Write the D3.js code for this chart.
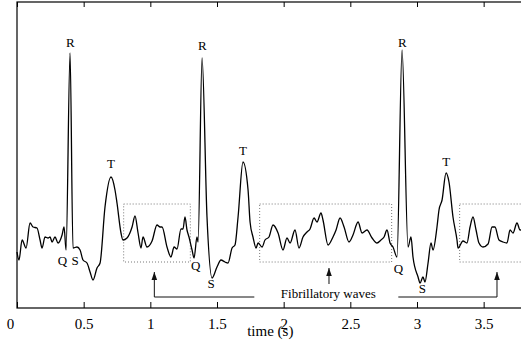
<!DOCTYPE html>
<html>
<head>
<meta charset="utf-8">
<script src="https://cdn.jsdelivr.net/npm/d3@7"></script>
<style>
  body { margin: 0; background: #fff; }
</style>
</head>
<body>
<div id="ecg_plot"></div>
<script>

// ECG trace (time in s, amplitude in mV)
var time_s = [0.000, 0.015, 0.038, 0.068, 0.098, 0.120, 0.150, 0.173, 0.188, 0.210,
  0.233, 0.248, 0.263, 0.285, 0.308, 0.338, 0.353, 0.368, 0.398, 0.420,
  0.450, 0.473, 0.495, 0.525, 0.548, 0.570, 0.600, 0.623, 0.660, 0.705,
  0.735, 0.750, 0.780, 0.795, 0.825, 0.863, 0.885, 0.908, 0.930, 0.945,
  0.975, 1.013, 1.050, 1.073, 1.088, 1.125, 1.155, 1.178, 1.200, 1.230,
  1.245, 1.260, 1.275, 1.290, 1.313, 1.328, 1.350, 1.358, 1.388, 1.425,
  1.463, 1.500, 1.530, 1.560, 1.583, 1.613, 1.635, 1.658, 1.695, 1.733,
  1.748, 1.770, 1.793, 1.808, 1.838, 1.860, 1.890, 1.920, 1.958, 1.995,
  2.025, 2.048, 2.085, 2.115, 2.145, 2.175, 2.198, 2.228, 2.250, 2.280,
  2.295, 2.333, 2.370, 2.393, 2.423, 2.453, 2.490, 2.520, 2.558, 2.588,
  2.625, 2.663, 2.700, 2.730, 2.753, 2.775, 2.798, 2.820, 2.850, 2.888,
  2.933, 2.955, 2.970, 3.008, 3.023, 3.045, 3.060, 3.083, 3.105, 3.120,
  3.150, 3.165, 3.188, 3.218, 3.240, 3.270, 3.300, 3.308, 3.345, 3.375,
  3.398, 3.420, 3.443, 3.465, 3.495, 3.533, 3.563, 3.585, 3.615, 3.645,
  3.675, 3.698, 3.720, 3.750, 3.773, 3.795];

var ecg_mv = [-0.12, -0.20, 0.00, -0.08, 0.17, 0.13, 0.12, 0.00, -0.08, 0.03,
  0.02, 0.03, -0.02, 0.03, -0.03, 0.05, 0.13, -0.10, 1.87, -0.08,
  -0.07, -0.10, -0.20, -0.23, -0.32, -0.40, -0.28, -0.23, 0.33, 0.63,
  0.50, 0.37, 0.07, 0.00, 0.02, 0.13, 0.24, 0.07, -0.08, 0.03,
  -0.07, -0.01, 0.15, 0.13, 0.13, -0.07, -0.17, -0.07, -0.09, 0.11,
  0.11, 0.23, 0.10, 0.03, -0.10, -0.18, 0.03, -0.02, 1.82, 0.23,
  -0.38, -0.27, -0.20, -0.22, -0.23, -0.08, -0.05, 0.23, 0.78, 0.50,
  0.18, 0.03, -0.08, -0.03, -0.07, 0.00, 0.03, 0.15, 0.07, -0.10,
  0.02, -0.03, 0.10, -0.08, 0.03, 0.08, 0.11, 0.22, 0.18, 0.27,
  0.20, -0.05, 0.03, 0.10, 0.22, 0.13, -0.02, 0.05, 0.18, 0.07,
  0.10, 0.02, -0.03, 0.00, 0.03, 0.10, -0.03, -0.07, -0.17, 1.90,
  -0.07, 0.03, -0.17, -0.37, -0.43, -0.37, -0.42, -0.23, -0.03, -0.10,
  0.13, 0.30, 0.40, 0.67, 0.58, 0.23, 0.00, -0.08, -0.01, -0.03,
  0.13, 0.23, 0.10, -0.03, -0.07, -0.04, 0.13, 0.13, 0.00, -0.02,
  -0.03, 0.10, 0.07, 0.17, 0.10, 0.12];

var x_ticks = [0, 0.5, 1, 1.5, 2, 2.5, 3, 3.5];

// wave labels, anchored at (time, amplitude)
var wave_names = ["R", "R", "R", "T", "T", "T", "Q", "S", "Q", "S", "Q", "S"];
var wave_t     = [0.40, 1.39, 2.89, 0.705, 1.695, 3.22, 0.34, 0.435, 1.34, 1.455, 2.86, 3.04];
var wave_v     = [1.93, 1.90, 1.93, 0.72, 0.85, 0.74, -0.25, -0.25, -0.30, -0.48, -0.33, -0.53];

// dotted boxes round the fibrillatory stretches
var box_t0 = [0.80, 1.82, 3.32];
var box_t1 = [1.30, 2.81, 3.95];
var box_vlo = -0.22;
var box_vhi = 0.36;

var note_text = "Fibrillatory waves";
var note_t = 2.335, note_v = -0.58;

// arrows pointing at the boxes (polylines, head at the last point)
var arrows = [
  [[1.78, -0.57], [1.03, -0.57], [1.03, -0.32]],
  [[2.34, -0.44], [2.34, -0.28]],
  [[2.86, -0.57], [3.60, -0.57], [3.60, -0.32]]
];

var serif = "'Liberation Serif', 'Times New Roman', 'DejaVu Serif', serif";

var plot_w = 3.8 * 133.33;
var plot_h = 306;
var margin = {top: 2, left: 17};

var svg = d3.select("#ecg_plot")
  .append("svg")
    .attr("width", 521)
    .attr("height", 353)
    .style("display", "block");

var g = svg.append("g")
  .attr("transform", "translate(" + margin.left + "," + margin.top + ")");

var x = d3.scaleLinear().domain([0, 3.8]).range([0, plot_w]);
var y = d3.scaleLinear().domain([-0.68, 2.38]).range([plot_h, 0]);

// dotted boxes
g.selectAll("rect.fibbox")
  .data(box_t0)
  .enter()
  .append("rect")
    .attr("class", "fibbox")
    .attr("x", d => x(d))
    .attr("y", y(box_vhi))
    .attr("width", (d, i) => x(box_t1[i]) - x(d))
    .attr("height", y(box_vlo) - y(box_vhi))
    .style("fill", "none")
    .style("stroke", "#777")
    .style("stroke-width", 1)
    .style("stroke-dasharray", "1,2");

// arrow head
svg.append("defs").append("marker")
    .attr("id", "head")
    .attr("viewBox", "0 0 10 10")
    .attr("refX", 10)
    .attr("refY", 5)
    .attr("markerWidth", 8)
    .attr("markerHeight", 8)
    .attr("markerUnits", "userSpaceOnUse")
    .attr("orient", "auto")
  .append("path")
    .attr("d", "M0,1.5 L10,5 L0,8.5 Z")
    .style("fill", "#111");

var arrow_line = d3.line()
  .x(d => x(d[0]))
  .y(d => y(d[1]));

g.selectAll("path.arrow")
  .data(arrows)
  .enter()
  .append("path")
    .attr("class", "arrow")
    .attr("d", d => arrow_line(d))
    .attr("marker-end", "url(#head)")
    .style("fill", "none")
    .style("stroke", "#111")
    .style("stroke-width", 1);

g.append("text")
  .attr("x", x(note_t))
  .attr("y", y(note_v))
  .attr("font-family", serif)
  .attr("font-size", 13)
  .style("text-anchor", "middle")
  .text(note_text);

// the trace
var line = d3.line()
  .x((d, i) => x(time_s[i]))
  .y(d => y(d))
  .curve(d3.curveMonotoneX);

g.append("path")
  .attr("d", line(ecg_mv))
  .style("fill", "none")
  .style("stroke", "#000")
  .style("stroke-width", 1.3)
  .style("stroke-linejoin", "round");

// wave labels
g.selectAll("text.wave")
  .data(wave_names)
  .enter()
  .append("text")
    .attr("class", "wave")
    .attr("x", (d, i) => x(wave_t[i]))
    .attr("y", (d, i) => y(wave_v[i]))
    .attr("font-family", serif)
    .attr("font-size", 13)
    .style("text-anchor", "middle")
    .text(d => d);

// axes: ticks point inwards, matlab style
var xAxis = d3.axisBottom(x)
  .tickValues(x_ticks)
  .tickSizeInner(-6)
  .tickSizeOuter(0)
  .tickPadding(10)
  .tickFormat(d3.format(""));

var xg = g.append("g")
  .attr("transform", "translate(0," + plot_h + ")")
  .call(xAxis)
  .attr("font-family", serif)
  .attr("font-size", 15);
xg.select(".domain").remove();
xg.selectAll("text")
  .style("fill", "#000")
  .attr("dx", d => d == 0 ? -7 : 0);
xg.selectAll("line").style("stroke", "#000");

var xTop = g.append("g")
  .call(d3.axisTop(x).tickValues(x_ticks).tickSizeInner(-5).tickSizeOuter(0).tickFormat(""));
xTop.select(".domain").remove();
xTop.selectAll("line").style("stroke", "#000");

// frame
g.append("rect")
  .attr("x", 0)
  .attr("y", 0)
  .attr("width", plot_w)
  .attr("height", plot_h)
  .style("fill", "none")
  .style("stroke", "#000")
  .style("stroke-width", 1.2);

// x label
g.append("text")
  .attr("x", plot_w / 2)
  .attr("y", plot_h + 28)
  .attr("font-family", serif)
  .attr("font-size", 15)
  .style("text-anchor", "middle")
  .text("time (s)");

</script>
</body>
</html>
